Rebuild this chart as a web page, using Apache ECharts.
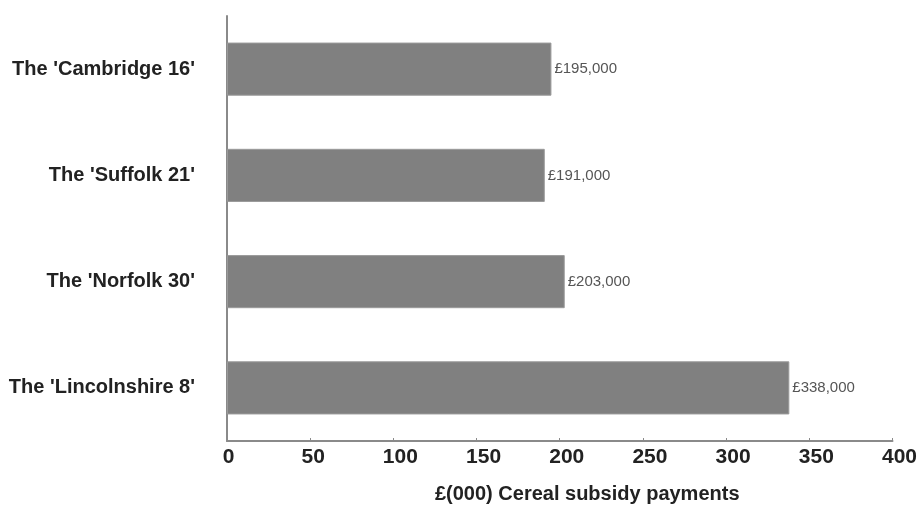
<!DOCTYPE html>
<html>
<head>
<meta charset="utf-8">
<script src="https://cdn.jsdelivr.net/npm/echarts@6/dist/echarts.min.js"></script>
<style>
html,body{margin:0;padding:0;background:#fff;}
#chart{width:920px;height:509px;}
</style>
</head>
<body>
<div id="chart"></div>
<script>
var categories = ["The 'Cambridge 16'", "The 'Suffolk 21'", "The 'Norfolk 30'", "The 'Lincolnshire 8'"];
var payments = [195, 191, 203, 338];
var valueLabels = ["£195,000", "£191,000", "£203,000", "£338,000"];
var xTicks = [0, 50, 100, 150, 200, 250, 300, 350, 400];
var axisTitle = "£(000) Cereal subsidy payments";

var FONT = "'Liberation Sans Narrow', 'Arial Narrow', 'Liberation Sans', sans-serif";
var tickStyle = function (pad) {
  return {fontFamily: FONT, fontWeight: 'bold', fontSize: 21, color: '#222', padding: [0, 0, 0, pad]};
};
var chart = echarts.init(document.getElementById('chart'), null, {renderer: 'canvas'});
chart.setOption({
  animation: false,
  backgroundColor: '#ffffff',
  grid: {left: 227, right: 27, top: 16, bottom: 65, containLabel: false},
  xAxis: {
    type: 'value',
    min: xTicks[0],
    max: xTicks[xTicks.length - 1],
    interval: 50,
    name: axisTitle,
    nameLocation: 'middle',
    nameGap: 43,
    nameTextStyle: {fontFamily: FONT, fontWeight: 'bold', fontSize: 20, color: '#222', padding: [0, 0, 0, 55]},
    axisLine: {show: true, lineStyle: {color: '#8a8a8a', width: 2}},
    axisTick: {show: true, inside: true, length: 3, lineStyle: {color: '#8a8a8a'}},
    splitLine: {show: false},
    axisLabel: {
      fontFamily: FONT, fontWeight: 'bold', fontSize: 21, color: '#222', margin: 6,
      rich: {d1: tickStyle(3), d2: tickStyle(6), d3: tickStyle(14)},
      formatter: function (v) {
        if (xTicks.indexOf(v) < 0) return '';
        var s = String(v);
        return '{d' + s.length + '|' + s + '}';
      }
    }
  },
  yAxis: {
    type: 'category',
    data: categories,
    inverse: true,
    axisLine: {show: true, lineStyle: {color: '#8a8a8a', width: 2}},
    axisTick: {show: false},
    axisLabel: {fontFamily: FONT, fontWeight: 'bold', fontSize: 20, color: '#222', margin: 32}
  },
  series: [{
    type: 'bar',
    data: payments,
    barWidth: '50%',
    itemStyle: {color: '#808080', borderColor: '#9a9a9a', borderWidth: 1},
    label: {
      show: true, position: 'right', distance: 3,
      fontFamily: FONT, fontSize: 15, color: '#555',
      formatter: function (p) { return valueLabels[p.dataIndex]; }
    }
  }]
});
</script>
</body>
</html>
